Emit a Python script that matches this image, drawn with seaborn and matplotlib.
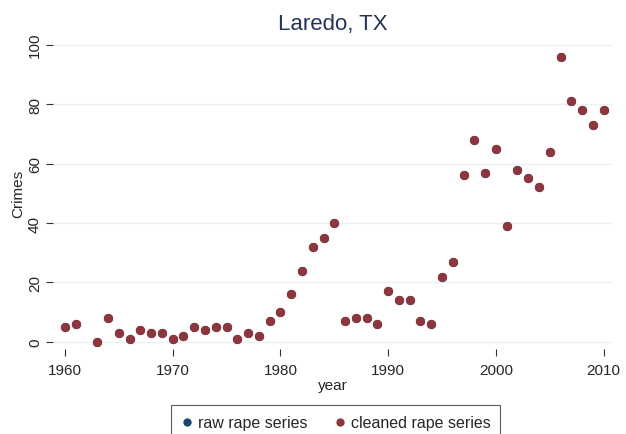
import numpy as np
import pandas as pd
import matplotlib
matplotlib.use("Agg")
import matplotlib.pyplot as plt
import seaborn as sns

# values (1962 missing)
years = [1960, 1961, 1963, 1964, 1965, 1966, 1967, 1968, 1969, 1970,
         1971, 1972, 1973, 1974, 1975, 1976, 1977, 1978, 1979, 1980,
         1981, 1982, 1983, 1984, 1985, 1986, 1987, 1988, 1989, 1990,
         1991, 1992, 1993, 1994, 1995, 1996, 1997, 1998, 1999, 2000,
         2001, 2002, 2003, 2004, 2005, 2006, 2007, 2008, 2009, 2010]
raw_rape = [5, 6, 0, 8, 3, 1, 4, 3, 3, 1,
            2, 5, 4, 5, 5, 1, 3, 2, 7, 10,
            16, 24, 32, 35, 40, 7, 8, 8, 6, 17,
            14, 14, 7, 6, 22, 27, 56, 68, 57, 65,
            39, 58, 55, 52, 64, 96, 81, 78, 73, 78]
cleaned_rape = list(raw_rape)

x_ticks = [1960, 1970, 1980, 1990, 2000, 2010]
y_ticks = [0, 20, 40, 60, 80, 100]

df = pd.DataFrame({"year": years, "raw": raw_rape, "cleaned": cleaned_rape})

sns.set_style("white")
plt.rcParams["font.family"] = ["Liberation Sans", "DejaVu Sans"]

fig = plt.figure(figsize=(6.26, 4.35), dpi=100)
ax = fig.add_axes([0.0847, 0.1954, 0.8943, 0.7172])

sns.scatterplot(data=df, x="year", y="raw", ax=ax, color="#1a476f",
                s=44, linewidth=0, label="raw rape series", zorder=3)
sns.scatterplot(data=df, x="year", y="cleaned", ax=ax, color="#90353b",
                s=44, linewidth=0, label="cleaned rape series", zorder=4)

ax.set_xlim(1958.9, 2010.85)
ax.set_ylim(-2.4, 102.6)
ax.set_xticks(x_ticks)
ax.set_yticks(y_ticks)
ax.grid(axis="y", color="#eaf2f3", linewidth=1.0)
ax.set_axisbelow(True)
for sp in ax.spines.values():
    sp.set_visible(False)

ax.tick_params(axis="both", which="both", direction="out", length=5,
               width=0.8, color="#333333", labelsize=11, bottom=True, left=True)
ax.tick_params(axis="x", pad=5)
ax.tick_params(axis="y", pad=3)
for lbl in ax.get_yticklabels():
    lbl.set_rotation(90)
    lbl.set_va("center")

ax.set_xlabel("year", fontsize=11, labelpad=1)
ax.set_ylabel("Crimes", fontsize=11, labelpad=2)
ax.set_title("Laredo, TX", fontsize=16, color="#22335f", pad=6)

ax.get_legend().remove()
handles, labels = ax.get_legend_handles_labels()
leg = fig.legend(handles, labels, loc="upper center", ncol=2,
                 bbox_to_anchor=(0.536, 1 - 406 / 435), fontsize=11.5,
                 frameon=True, fancybox=False, borderpad=0.6,
                 handletextpad=0.3, columnspacing=1.6, handlelength=0.8,
                 markerscale=0.9, borderaxespad=0)
leg.get_frame().set_edgecolor("#333333")
leg.get_frame().set_linewidth(0.8)

fig.savefig("out.png", dpi=100)
